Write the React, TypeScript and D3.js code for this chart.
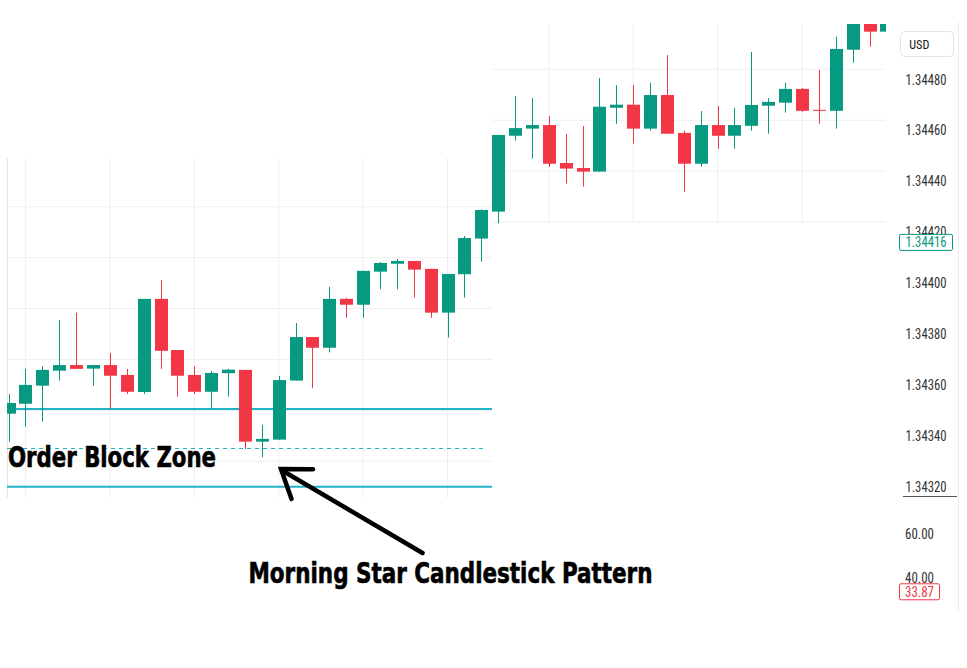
import React from "react";
import * as d3 from "d3";

// ---- data ----
const opens = [
  1.343487, 1.343526, 1.343597, 1.343656, 1.343678, 1.343664, 1.343678, 1.343639, 1.343572, 1.343938,
  1.343737, 1.343639, 1.343573, 1.343646, 1.343659, 1.343377, 1.343385, 1.343617, 1.343788, 1.343746,
  1.343938, 1.343915, 1.344045, 1.344076, 1.344087, 1.344056, 1.343884, 1.344035, 1.344175, 1.344281,
  1.344579, 1.344607, 1.344621, 1.344472, 1.344452, 1.344438, 1.344689, 1.344701, 1.344607, 1.344739,
  1.344590, 1.344469, 1.344621, 1.344579, 1.344618, 1.344697, 1.344709, 1.344763, 1.344681, 1.344677,
  1.344917, 1.345040, 1.344988,
];
const highs = [
  1.343564, 1.343663, 1.343673, 1.343855, 1.343884, 1.343678, 1.343725, 1.343663, 1.343938, 1.344012,
  1.343737, 1.343673, 1.343655, 1.343663, 1.343659, 1.343443, 1.343635, 1.343843, 1.343788, 1.343985,
  1.343942, 1.344048, 1.344083, 1.344095, 1.344087, 1.344056, 1.344036, 1.344185, 1.344290, 1.344582,
  1.344735, 1.344727, 1.344657, 1.344586, 1.344617, 1.344806, 1.344778, 1.344778, 1.344787, 1.344896,
  1.344599, 1.344676, 1.344696, 1.344688, 1.344908, 1.344727, 1.344787, 1.344767, 1.344837, 1.344968,
  1.345060, 1.345060, 1.345060,
];
const lows = [
  1.343377, 1.343436, 1.343456, 1.343617, 1.343663, 1.343597, 1.343507, 1.343564, 1.343564, 1.343663,
  1.343554, 1.343564, 1.343507, 1.343554, 1.343347, 1.343316, 1.343385, 1.343617, 1.343587, 1.343728,
  1.343864, 1.343864, 1.343976, 1.343976, 1.343943, 1.343864, 1.343786, 1.343943, 1.344084, 1.344235,
  1.344560, 1.344489, 1.344457, 1.344391, 1.344379, 1.344438, 1.344626, 1.344548, 1.344599, 1.344587,
  1.344359, 1.344457, 1.344528, 1.344528, 1.344599, 1.344587, 1.344670, 1.344673, 1.344626, 1.344607,
  1.344866, 1.344929, 1.344975,
];
const closes = [
  1.343529, 1.343600, 1.343659, 1.343678, 1.343663, 1.343678, 1.343636, 1.343573, 1.343938, 1.343734,
  1.343636, 1.343573, 1.343647, 1.343660, 1.343377, 1.343388, 1.343619, 1.343788, 1.343746, 1.343938,
  1.343915, 1.344048, 1.344079, 1.344087, 1.344053, 1.343884, 1.344036, 1.344177, 1.344287, 1.344582,
  1.344609, 1.344621, 1.344469, 1.344450, 1.344438, 1.344693, 1.344701, 1.344607, 1.344739, 1.344587,
  1.344469, 1.344621, 1.344579, 1.344621, 1.344700, 1.344712, 1.344763, 1.344677, 1.344677, 1.344920,
  1.345040, 1.344988, 1.345040,
];
const priceTicks = [1.3448, 1.3446, 1.3444, 1.3442, 1.344, 1.3438, 1.3436, 1.3434, 1.3432];
const lastPrice = 1.34416;
const rsiTicks = [60, 40];
const rsiLast = 33.87;
const orderBlockTop = 1.343505;
const orderBlockBottom = 1.3432;
const morningStarLow = 1.34335;
const leftGridPrices = [1.3443, 1.3441, 1.3439, 1.3437, 1.3435, 1.3433];
const rightGridPrices = [1.34484, 1.34464, 1.34444, 1.34424];
const leftGridBars = [1, 6, 11, 16, 21, 26];
const rightGridBars = [32, 37, 42, 47];

const UP = "#089981";
const DOWN = "#f23645";
const CYAN = "#1fb3c6";
const GRID = "#eeeff2";

export default function App() {
  const n = opens.length;
  const x = d3.scaleLinear().domain([0, n - 1]).range([8.6, 886.4]);
  const y = d3.scaleLinear().domain([1.3432, 1.3448]).range([486.7, 79.5]);
  const yr = d3.scaleLinear().domain([40, 60]).range([578.3, 534.3]);
  const bw = 13;

  const axisFont = "'Liberation Sans Narrow', 'Roboto Condensed', 'DejaVu Sans Condensed', Roboto, sans-serif";
  const boldFont = "'Liberation Sans Narrow', 'DejaVu Sans Condensed', 'Liberation Sans', sans-serif";

  return (
    <svg
      width={967}
      height={668}
      viewBox="0 0 967 668"
      style={{ position: "absolute", left: 0, top: 0, background: "#fff" }}
    >
      <defs>
        <clipPath id="plot">
          <rect x={7} y={24} width={879} height={474} />
        </clipPath>
      </defs>
      <rect x={0} y={0} width={967} height={668} fill="#fff" />

      {/* left panel grid */}
      {leftGridPrices.map((p, i) => (
        <line key={"lh" + i} x1={7} x2={492} y1={y(p)} y2={y(p)} stroke={GRID} strokeWidth={1} />
      ))}
      {leftGridBars.map((b, i) => (
        <line key={"lv" + i} x1={x(b)} x2={x(b)} y1={158} y2={498} stroke={GRID} strokeWidth={1} />
      ))}
      <line x1={7.5} x2={7.5} y1={158} y2={498} stroke="#e3e4e8" strokeWidth={1} />

      {/* right-top panel grid */}
      {rightGridPrices.map((p, i) => (
        <line key={"rh" + i} x1={492} x2={885} y1={y(p)} y2={y(p)} stroke={GRID} strokeWidth={1} />
      ))}
      {rightGridBars.map((b, i) => (
        <line key={"rv" + i} x1={x(b)} x2={x(b)} y1={24} y2={222} stroke={GRID} strokeWidth={1} />
      ))}

      {/* order block lines */}
      <line x1={7} x2={492} y1={y(orderBlockTop)} y2={y(orderBlockTop)} stroke={CYAN} strokeWidth={2} />
      <line x1={7} x2={492} y1={y(orderBlockBottom)} y2={y(orderBlockBottom)} stroke={CYAN} strokeWidth={2} />
      <line
        x1={7}
        x2={487}
        y1={y(morningStarLow)}
        y2={y(morningStarLow)}
        stroke={CYAN}
        strokeWidth={1}
        strokeDasharray="4 4"
      />

      {/* candles */}
      <g clipPath="url(#plot)">
        {opens.map((o, i) => {
          const c = closes[i];
          const up = c >= o;
          const col = up ? UP : DOWN;
          const cx = Math.round(x(i)) + 0.5;
          const top = y(Math.max(o, c));
          const bot = y(Math.min(o, c));
          return (
            <g key={i}>
              <line x1={cx} x2={cx} y1={y(highs[i])} y2={y(lows[i])} stroke={col} strokeWidth={1} />
              <rect x={cx - bw / 2} y={top} width={bw} height={Math.max(1, bot - top)} fill={col} />
            </g>
          );
        })}
      </g>

      {/* right axis */}
      <line x1={958.5} x2={958.5} y1={22} y2={612} stroke="#ececec" strokeWidth={1} />
      <rect x={900.5} y={31.5} width={53} height={25} rx={4} fill="#fff" stroke="#e3e5ea" />
      <text x={909.3} y={48.5} fontFamily={axisFont} fontSize={12} fill="#131722" textLength={20} lengthAdjust="spacingAndGlyphs">
        USD
      </text>
      {priceTicks.map((p, i) => (
        <text
          key={"pt" + i}
          x={905.5}
          y={y(p) + 5}
          fontFamily={axisFont}
          fontSize={14}
          fill="#333"
          textLength={41}
          lengthAdjust="spacingAndGlyphs"
        >
          {p.toFixed(5)}
        </text>
      ))}
      <rect x={899.5} y={y(lastPrice) - 8} width={53} height={16} fill="#fff" stroke={UP} strokeWidth={1} rx={1.5} />
      <text
        x={905.5}
        y={y(lastPrice) + 5}
        fontFamily={axisFont}
        fontSize={14}
        fill={UP}
        textLength={41}
        lengthAdjust="spacingAndGlyphs"
      >
        {lastPrice.toFixed(5)}
      </text>
      <line x1={903} x2={957} y1={496.5} y2={496.5} stroke="#555" strokeWidth={1} />

      {rsiTicks.map((v, i) => (
        <text
          key={"rt" + i}
          x={905}
          y={yr(v) + 5}
          fontFamily={axisFont}
          fontSize={14}
          fill="#333"
          textLength={29}
          lengthAdjust="spacingAndGlyphs"
        >
          {v.toFixed(2)}
        </text>
      ))}
      <rect x={899.5} y={yr(rsiLast) - 8} width={40} height={16} fill="#fff" stroke={DOWN} strokeWidth={1} rx={1.5} />
      <text
        x={905}
        y={yr(rsiLast) + 5}
        fontFamily={axisFont}
        fontSize={14}
        fill={DOWN}
        textLength={29}
        lengthAdjust="spacingAndGlyphs"
      >
        {rsiLast.toFixed(2)}
      </text>

      {/* annotations */}
      <text
        x={8}
        y={466.7}
        fontFamily={boldFont}
        fontWeight="bold"
        fontSize={29}
        fill="#000"
        stroke="#000"
        strokeWidth={0.6}
        textLength={208}
        lengthAdjust="spacingAndGlyphs"
      >
        Order Block Zone
      </text>
      <text
        x={248.5}
        y={582.7}
        fontFamily={boldFont}
        fontWeight="bold"
        fontSize={29}
        fill="#000"
        stroke="#000"
        strokeWidth={0.6}
        textLength={404}
        lengthAdjust="spacingAndGlyphs"
      >
        Morning Star Candlestick Pattern
      </text>
      <line x1={422.5} y1={553} x2={283} y2={471} stroke="#000" strokeWidth={4.5} strokeLinecap="round" />
      <path d="M313,469.3 L281,469 L291.5,499" fill="none" stroke="#000" strokeWidth={4.5} strokeLinecap="round" strokeLinejoin="miter" />
    </svg>
  );
}
